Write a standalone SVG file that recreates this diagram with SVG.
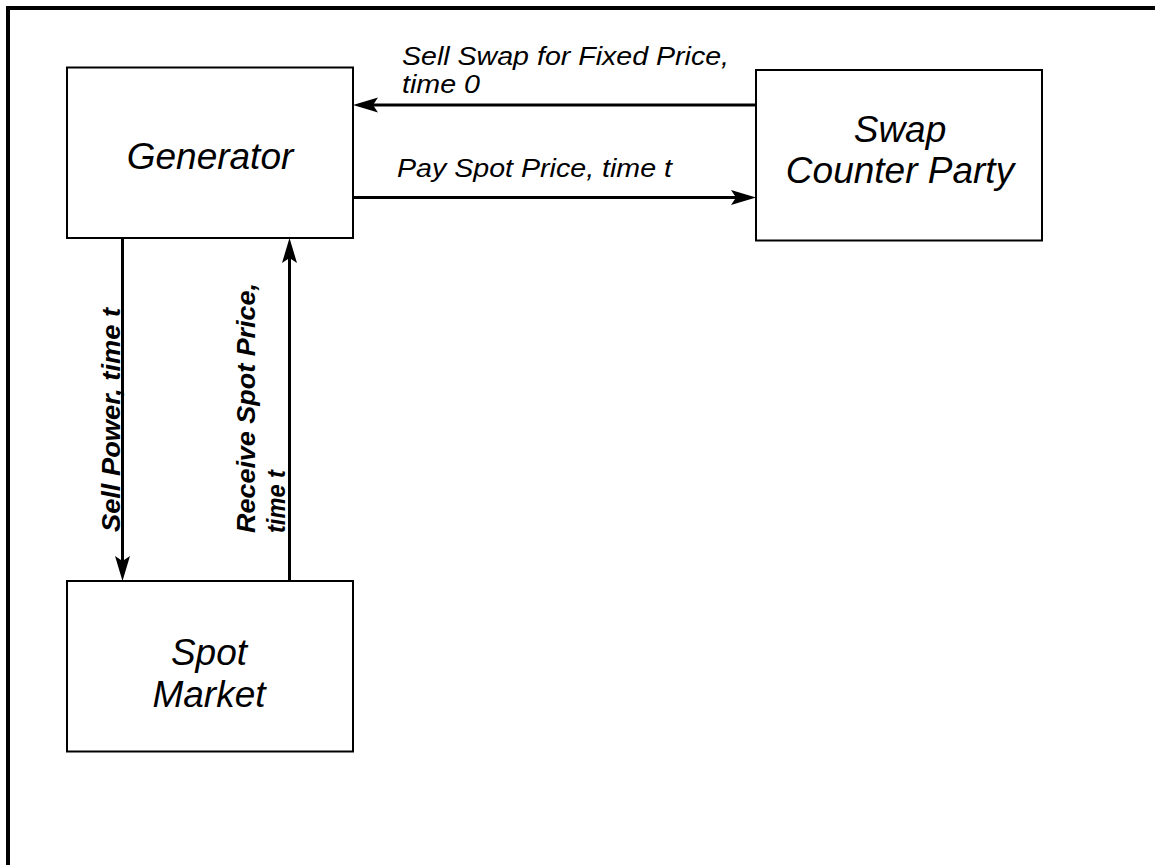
<svg xmlns="http://www.w3.org/2000/svg" width="1155" height="865" viewBox="0 0 1155 865">
<style>
.box{fill:#fff;stroke:#000;stroke-width:2}
.node{font-family:"Liberation Sans",Arial,sans-serif;font-style:italic;font-size:37px;fill:#000;text-anchor:middle}
.lbl{font-family:"Liberation Sans",Arial,sans-serif;font-style:italic;font-size:26px;fill:#000}
.vlbl{font-family:"Liberation Sans",Arial,sans-serif;font-style:italic;font-weight:bold;font-size:25px;fill:#000}
.conn{stroke:#000;stroke-width:3;fill:none;marker-end:url(#ah)}
</style>
<defs>
<marker id="ah" markerUnits="userSpaceOnUse" markerWidth="30" markerHeight="20" viewBox="-6 -10 30 20" refX="0" refY="0" orient="auto">
<path d="M20,0 L-5,-7.5 L0,0 L-5,7.5 Z" fill="#000"/>
</marker>
</defs>
<rect width="1155" height="865" fill="#fff"/>
<path d="M8,865 V8 H1155" fill="none" stroke="#000" stroke-width="4"/>
<g id="generator">
<rect class="box" x="67" y="67.5" width="286" height="170.5"/>
<text class="node" x="210" y="169">Generator</text>
</g>
<g id="swap-counter-party">
<rect class="box" x="756" y="70" width="286" height="170.5"/>
<text class="node" x="900" y="142">Swap</text>
<text class="node" x="900" y="183">Counter Party</text>
</g>
<g id="spot-market">
<rect class="box" x="67" y="581" width="286" height="170.5"/>
<text class="node" x="209" y="665">Spot</text>
<text class="node" x="209" y="707">Market</text>
</g>
<g id="connectors">
<line class="conn" x1="756" y1="105" x2="373" y2="105"/>
<line class="conn" x1="353" y1="197.5" x2="736" y2="197.5"/>
<line class="conn" x1="122.5" y1="238" x2="122.5" y2="561"/>
<line class="conn" x1="289.5" y1="581" x2="289.5" y2="258"/>
<text class="lbl" x="402" y="65" textLength="327" lengthAdjust="spacingAndGlyphs">Sell Swap for Fixed Price,</text>
<text class="lbl" x="402" y="93" textLength="78" lengthAdjust="spacingAndGlyphs">time 0</text>
<text class="lbl" x="397" y="177" textLength="275" lengthAdjust="spacingAndGlyphs">Pay Spot Price, time t</text>
<text class="vlbl" transform="translate(119.5,532) rotate(-90)" x="0" y="0" textLength="224" lengthAdjust="spacingAndGlyphs">Sell Power, time t</text>
<text class="vlbl" transform="translate(255,533) rotate(-90)" x="0" y="0" textLength="250" lengthAdjust="spacingAndGlyphs">Receive Spot Price,</text>
<text class="vlbl" transform="translate(285,533) rotate(-90)" x="0" y="0" textLength="63" lengthAdjust="spacingAndGlyphs">time t</text>
</g>
</svg>
